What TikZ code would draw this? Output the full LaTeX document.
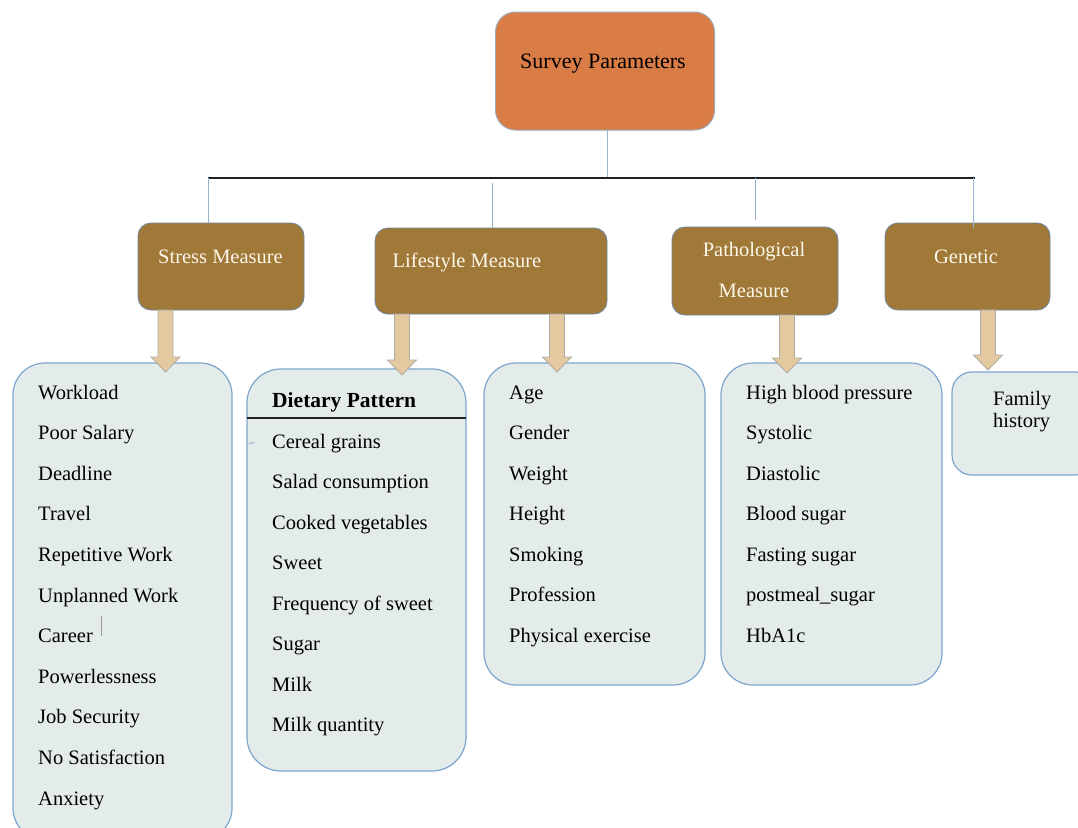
\documentclass[tikz,border=0pt]{standalone}
\usepackage{fontspec}
\setmainfont{Liberation Serif}
\definecolor{topfill}{RGB}{218,124,70}
\definecolor{brownfill}{RGB}{160,120,55}
\definecolor{brownline}{RGB}{115,135,155}
\definecolor{headtext}{RGB}{252,247,235}
\definecolor{listfill}{RGB}{228,236,235}
\definecolor{listline}{RGB}{125,165,205}
\definecolor{arrowfill}{RGB}{226,201,160}
\definecolor{arrowline}{RGB}{175,170,160}
\definecolor{stemcol}{RGB}{150,180,210}
\definecolor{buscol}{RGB}{35,35,35}
\newcommand{\blockarr}[3]{%
  \filldraw[blockarrow] ({#1-7.5},#2) -- ({#1+7.5},#2) -- ({#1+7.5},{#3-15}) -- ({#1+14.5},{#3-15})
    -- (#1,#3) -- ({#1-14.5},{#3-15}) -- ({#1-7.5},{#3-15}) -- cycle;}
\tikzset{
  topbox/.style={draw=brownline!70, line width=1pt, fill=topfill, rounded corners=20pt, minimum width=219pt, minimum height=118pt, outer sep=0pt},
  headbox/.style={draw=brownline, line width=0.9pt, fill=brownfill, rounded corners=13pt, outer sep=0pt},
  listbox/.style={draw=listline, line width=1.2pt, fill=listfill, rounded corners=32pt, outer sep=0pt},
  headtxt/.style={text=headtext, font=\fontsize{20.5}{22}\selectfont, inner sep=0pt, anchor=base},
  toptxt/.style={text=black, font=\fontsize{22}{24}\selectfont, inner sep=0pt, anchor=base},
  item/.style={text=black, font=\fontsize{20.5}{22}\selectfont, inner sep=0pt, anchor=base west},
  stem/.style={draw=stemcol, line width=1pt},
  bus/.style={draw=buscol, line width=1.3pt},
  blockarrow/.style={fill=arrowfill, draw=arrowline, line width=0.8pt}
}
\begin{document}
\begin{tikzpicture}[x=1pt,y=-1pt]
\path[use as bounding box, clip] (0,0) rectangle (1078,827);
\fill[white] (0,0) rectangle (1078,827);

% top
\node[topbox] (top) at (605,71) {};
\node[toptxt] (toptext) at (603,68) {Survey Parameters};

% bus
\coordinate (busL) at (208,178);
\coordinate (busR) at (975,178);
\coordinate (jS) at (208,178);
\coordinate (jL) at (492,183);
\coordinate (jP) at (755,178);
\coordinate (jG) at (973,178);

% heading boxes
\node[headbox, minimum width=166pt, minimum height=87pt] (stress) at (221,266.5) {};
\node[headbox, minimum width=232pt, minimum height=86pt] (life) at (491,271) {};
\node[headbox, minimum width=166pt, minimum height=88pt] (patho) at (755,271) {};
\node[headbox, minimum width=165pt, minimum height=87pt] (gen) at (967.5,266.5) {};

\node[headtxt] (stresst) at (220.5,263) {Stress Measure};
\node[headtxt] (lifet) at (467,267) {Lifestyle Measure};
\node[headtxt] (pathot1) at (754,256) {Pathological};
\node[headtxt] (pathot2) at (754,297) {Measure};
\node[headtxt] (gent) at (966,263) {Genetic};

% connectors
\draw[stem] (top.south -| 607,0) -- (607,178);
\draw[bus] (busL) -- (busR);
\draw[stem] (jS) -- (jS |- stress.north);
\draw[stem] (jL) -- (jL |- life.north);
\draw[stem] (jP) -- (755,220);
\draw[stem] (jG) -- (973,228);

% list boxes
\node[listbox, minimum width=219pt, minimum height=477pt] (slist) at (122.5,601.5) {};
\node[listbox, minimum width=219pt, minimum height=402pt, rounded corners=34pt] (diet) at (356.5,570) {};
\node[listbox, minimum width=221pt, minimum height=322pt] (age) at (594.5,524) {};
\node[listbox, minimum width=221pt, minimum height=322pt] (plist) at (831.5,524) {};
\node[listbox, minimum width=143pt, minimum height=103pt, rounded corners=20pt] (fam) at (1023.5,423.5) {};

% dietary separator
\draw[draw=buscol, line width=1.5pt] (diet.west |- 0,418) -- (diet.east |- 0,418);

% block arrows
\blockarr{165.5}{310}{372}
\blockarr{402}{314}{375}
\blockarr{557}{314}{372}
\blockarr{787}{315}{373}
\blockarr{988}{310}{370}

% stress items
\foreach \t [count=\i from 0] in {Workload, Poor Salary, Deadline, Travel, Repetitive Work, Unplanned Work, Career, Powerlessness, Job Security, No Satisfaction, Anxiety}
  \node[item] (s\i) at (38,{399+40.6*\i}) {\t};
\draw[gray!80, line width=0.8pt] (101.5,616) -- (101.5,636);

% dietary items
\node[item, font=\bfseries\fontsize{21.5}{24}\selectfont] (dhead) at (272,407) {Dietary Pattern};
\foreach \t [count=\i from 0] in {Cereal grains, Salad consumption, Cooked vegetables, Sweet, Frequency of sweet, Sugar, Milk, Milk quantity}
  \node[item] (d\i) at (272,{448+40.5*\i}) {\t};
\draw[listline, line width=0.8pt] (249,443.5) -- (254,442.5);

% lifestyle items
\foreach \t [count=\i from 0] in {Age, Gender, Weight, Height, Smoking, Profession, Physical exercise}
  \node[item] (a\i) at (509,{399+40.5*\i}) {\t};

% pathological items
\foreach \t [count=\i from 0] in {High blood pressure, Systolic, Diastolic, Blood sugar, Fasting sugar, postmeal\_sugar, HbA1c}
  \node[item] (p\i) at (746,{399+40.5*\i}) {\t};

% family
\node[item] (f1) at (993,405) {Family};
\node[item] (f2) at (993,427) {history};
\end{tikzpicture}
\end{document}
